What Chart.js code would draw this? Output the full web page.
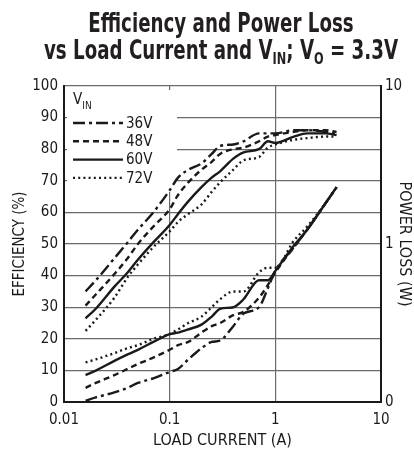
<!DOCTYPE html>
<html>
<head>
<meta charset="utf-8">
<script src="https://cdn.jsdelivr.net/npm/chart.js@4/dist/chart.umd.min.js"></script>
<style>
  html, body { margin: 0; padding: 0; background: #fff; }
  #wrap { position: relative; width: 414px; height: 450px; overflow: hidden; }
  #title {
    position: absolute; left: -86px; top: 10px; width: 614px;
    text-align: center; color: #231f20; white-space: nowrap;
    font: bold 26px "DejaVu Sans Condensed", sans-serif;
    line-height: 27px;
    transform: scaleX(0.78); transform-origin: 307px 0;
  }
  #title sub { font-size: 0.62em; vertical-align: -0.28em; line-height: 0; }
  canvas { position: absolute; left: 0; top: 0; }
</style>
</head>
<body>
<div id="wrap">
  <canvas id="effChart" width="414" height="450"></canvas>
  <div id="title">Efficiency and Power Loss<br>vs Load Current and V<sub>IN</sub>; V<sub>O</sub> = 3.3V</div>
</div>
<script>
// load current (A), shared by all curves
const loadCurrent = [0.016, 0.02, 0.03, 0.04, 0.05, 0.07, 0.1, 0.12, 0.15, 0.2, 0.25, 0.3, 0.4, 0.5, 0.7, 0.85, 1, 1.5, 2, 3, 3.8];

// efficiency (%)
const eff36 = [35, 38.5, 45.5, 50.5, 54.5, 60, 67, 71, 73.5, 75.5, 78.5, 81, 81.5, 82.5, 85, 85, 85, 86, 86, 85.5, 85];
const eff48 = [30.5, 34, 40.5, 45.5, 50, 55.5, 61, 65.5, 69.5, 73.5, 76, 78.5, 80, 80.5, 82.5, 84, 84.5, 85.5, 86, 86, 85.5];
const eff60 = [26.5, 29.5, 36.5, 41, 45, 50.5, 56, 59.5, 63.5, 68, 71, 73, 77, 79, 80, 82.5, 82, 84, 85, 85, 84.5];
const eff72 = [22.5, 26, 33, 39.5, 43.5, 49, 54, 57, 59.5, 62.5, 66.5, 69.5, 73.5, 76.5, 77.5, 80.5, 81.5, 83, 83.5, 84, 84];

// power loss (W)
const loss36 = [0.102, 0.107, 0.115, 0.123, 0.132, 0.141, 0.155, 0.162, 0.186, 0.219, 0.240, 0.245, 0.302, 0.363, 0.398, 0.525, 0.676, 0.955, 1.23, 1.82, 2.29];
const loss48 = [0.123, 0.132, 0.148, 0.162, 0.174, 0.191, 0.214, 0.229, 0.240, 0.275, 0.302, 0.316, 0.355, 0.372, 0.457, 0.550, 0.661, 0.955, 1.23, 1.82, 2.29];
const loss60 = [0.148, 0.158, 0.182, 0.200, 0.214, 0.240, 0.269, 0.275, 0.288, 0.309, 0.347, 0.389, 0.398, 0.447, 0.589, 0.589, 0.676, 0.977, 1.23, 1.82, 2.29];
const loss72 = [0.178, 0.186, 0.204, 0.219, 0.229, 0.251, 0.269, 0.288, 0.316, 0.347, 0.398, 0.447, 0.501, 0.501, 0.661, 0.708, 0.708, 1.05, 1.29, 1.82, 2.29];

const vinLabels = ['36V', '48V', '60V', '72V'];
const xTicks = [0.01, 0.1, 1, 10];
const lossTicks = [0.1, 1, 10];
const lossTickLabels = ['0', '1', '10'];

const FONT = '"DejaVu Sans Condensed", sans-serif';
const INK = '#1a1a1a';
const dashes = [[12, 4, 3, 4], [6, 4], [], [2, 3.2]];

function toPoints(values) {
    return loadCurrent.map((x, i) => ({ x: x, y: values[i] }));
}

const effSeries = [eff36, eff48, eff60, eff72];
const lossSeries = [loss36, loss48, loss60, loss72];
const datasets = [];
effSeries.forEach((s, i) => datasets.push({
    label: vinLabels[i], data: toPoints(s), yAxisID: 'y', borderDash: dashes[i]
}));
lossSeries.forEach((s, i) => datasets.push({
    label: vinLabels[i] + ' loss', data: toPoints(s), yAxisID: 'y1', borderDash: dashes[i]
}));
datasets.forEach(d => {
    d.borderColor = INK;
    d.borderWidth = 2.4;
    d.pointRadius = 0;
    d.cubicInterpolationMode = 'monotone';
    d.fill = false;
});

// legend drawn inside the plot, over a white box
const insideLegend = {
    id: 'insideLegend',
    beforeDatasetsDraw(chart) {
        const ctx = chart.ctx, a = chart.chartArea;
        ctx.save();
        ctx.fillStyle = '#fff';
        ctx.fillRect(a.left + 3, a.top + 4, 110, 102);
        ctx.restore();
    },
    afterDatasetsDraw(chart) {
        const ctx = chart.ctx, a = chart.chartArea;
        const x0 = a.left + 9;
        ctx.save();
        ctx.fillStyle = INK;
        ctx.textBaseline = 'middle';
        ctx.textAlign = 'left';
        ctx.font = '15px ' + FONT;
        ctx.fillText('V', x0, a.top + 14);
        const vw = ctx.measureText('V').width;
        ctx.font = '10px ' + FONT;
        ctx.fillText('IN', x0 + vw, a.top + 20);
        ctx.font = '15px ' + FONT;
        vinLabels.forEach((lab, i) => {
            const y = a.top + 37 + i * 18.3;
            ctx.strokeStyle = INK;
            ctx.lineWidth = 2.4;
            ctx.setLineDash(dashes[i]);
            ctx.beginPath();
            ctx.moveTo(x0, y);
            ctx.lineTo(x0 + 50, y);
            ctx.stroke();
            ctx.fillText(lab, x0 + 53, y + 1);
        });
        ctx.restore();
    }
};

new Chart(document.getElementById('effChart'), {
    type: 'line',
    data: { datasets: datasets },
    plugins: [insideLegend],
    options: {
        responsive: false,
        animation: false,
        layout: { padding: { top: 86, left: 0, right: 0, bottom: 0 } },
        plugins: { legend: { display: false }, tooltip: { enabled: false } },
        scales: {
            x: {
                type: 'logarithmic', min: 0.01, max: 10,
                afterBuildTicks: s => { s.ticks = xTicks.map(v => ({ value: v })); },
                afterFit: s => { s.height = 48; },
                ticks: {
                    color: INK, font: { family: FONT, size: 15 }, padding: 9,
                    maxRotation: 0, autoSkip: false,
                    callback: v => String(v)
                },
                grid: { color: '#6a6a6a', lineWidth: 1.2, drawTicks: false },
                border: { color: INK, width: 2 },
                title: { display: true, text: 'LOAD CURRENT (A)', color: INK,
                         font: { family: FONT, size: 16 }, padding: 0 }
            },
            y: {
                min: 0, max: 100,
                afterFit: s => { s.width = 64; },
                ticks: { stepSize: 10, color: INK, font: { family: FONT, size: 15 }, padding: 6 },
                grid: { color: '#6a6a6a', lineWidth: 1.2, drawTicks: false },
                border: { color: INK, width: 2 },
                title: { display: true, text: 'EFFICIENCY (%)', color: INK,
                         font: { family: FONT, size: 15 }, padding: { top: 11, bottom: 0 } }
            },
            y1: {
                type: 'logarithmic', position: 'right', min: 0.1, max: 10,
                afterBuildTicks: s => { s.ticks = lossTicks.map(v => ({ value: v })); },
                afterFit: s => { s.width = 33; },
                ticks: {
                    color: INK, font: { family: FONT, size: 15 }, padding: 4, autoSkip: false,
                    callback: v => lossTickLabels[lossTicks.indexOf(v)]
                },
                grid: { drawOnChartArea: false, drawTicks: false },
                border: { color: INK, width: 2 },
                title: { display: true, text: 'POWER LOSS (W)', color: INK,
                         font: { family: FONT, size: 16 }, padding: 0 }
            }
        }
    }
});
</script>
</body>
</html>
